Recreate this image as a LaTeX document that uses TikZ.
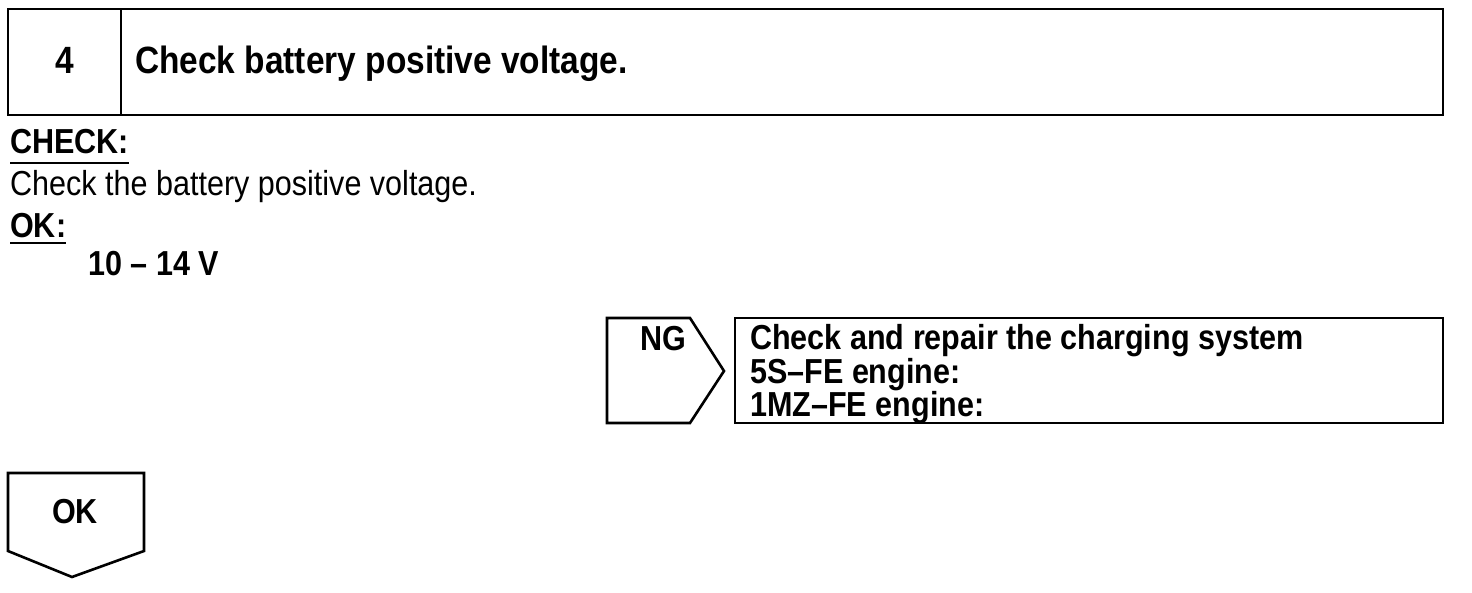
\documentclass[tikz,border=0pt]{standalone}
\usepackage{fontspec}
\setmainfont[FakeStretch=0.88]{Liberation Sans}
\begin{document}
\begin{tikzpicture}[x=1pt,y=-1pt,
  frame/.style={draw=black,line width=2.6pt,line join=miter},
  txt/.style={anchor=base west,inner sep=0pt,font=\fontsize{34.7}{40}\selectfont},
  btxt/.style={txt,font=\fontsize{34.7}{40}\selectfont\bfseries},
  uline/.style={draw=black,line width=1.4pt}]
\useasboundingbox (0,0) rectangle (1472,592);
% header box
\draw[frame] (8,9) rectangle (1443,115);
\draw[frame] (121,9) -- (121,115);
\node[anchor=base,inner sep=0pt,font=\fontsize{38}{44}\selectfont\bfseries] (num) at (64.5,73) {4};
\node[anchor=base west,inner sep=0pt,font=\fontsize{38}{44}\selectfont\bfseries] (title) at (135,73) {Check battery positive voltage.};
% check section
\node[btxt] (chk) at (10,153) {CHECK:};
\draw[uline] ([yshift=-10pt]chk.base west) -- ([yshift=-10pt]chk.base east);
\node[txt] (body) at (10,195) {Check the battery positive voltage.};
\node[btxt] (ok) at (10,237) {OK:};
\draw[uline] ([yshift=-6pt]ok.base west) -- ([yshift=-6pt]ok.base east);
\node[btxt] (val) at (88,275) {10 – 14 V};
% NG tag and result box
\draw[frame] (607,318) -- (690,318) -- (724,371) -- (690,423) -- (607,423) -- cycle;
\node[btxt] (ng) at (640,350) {NG};
\draw[frame] (735,318) rectangle (1443,423);
\node[anchor=north west,inner sep=0pt,align=left,
      font=\fontsize{34.7}{26.5}\selectfont\bfseries] (res) at (750,324.5)
  {Check and repair the charging system\\5S–FE engine:\\1MZ–FE engine:};
% OK tag
\draw[frame] (8,473) -- (144,473) -- (144,551) -- (72,577) -- (8,551) -- cycle;
\node[btxt] (okt) at (52,523) {OK};
\end{tikzpicture}
\end{document}
